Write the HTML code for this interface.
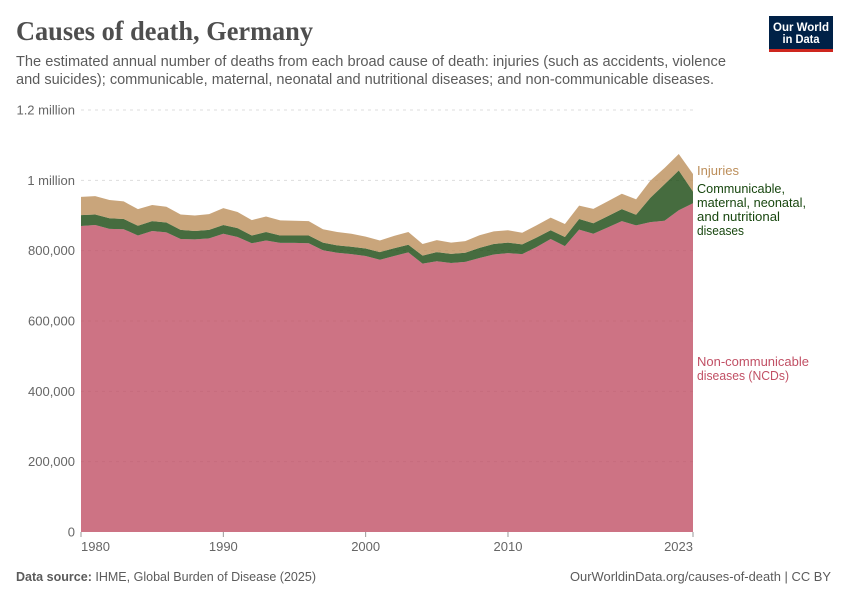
<!DOCTYPE html>
<html lang="en">
<head>
<meta charset="utf-8">
<title>Causes of death, Germany</title>
<style>
html,body{margin:0;padding:0;background:#fff;}
svg{display:block;font-family:"Liberation Sans",sans-serif;}
</style>
</head>
<body>
<svg id="chart" width="850" height="600" viewBox="0 0 850 600" xmlns="http://www.w3.org/2000/svg">
  <text x="16" y="40" font-family="'Liberation Serif',serif" font-weight="700" font-size="27" fill="#4e4e4e" textLength="297" lengthAdjust="spacingAndGlyphs">Causes of death, Germany</text>
  <text x="16" y="66" font-size="14.5" fill="#5b5b5b" textLength="710" lengthAdjust="spacingAndGlyphs">The estimated annual number of deaths from each broad cause of death: injuries (such as accidents, violence</text>
  <text x="16" y="84" font-size="14.5" fill="#5b5b5b" textLength="698" lengthAdjust="spacingAndGlyphs">and suicides); communicable, maternal, neonatal and nutritional diseases; and non-communicable diseases.</text>

  <g>
    <rect x="769" y="16" width="64" height="36" fill="#002147"/>
    <rect x="769" y="49" width="64" height="3" fill="#ce261e"/>
    <text x="801" y="31" text-anchor="middle" font-size="11.5" font-weight="700" fill="#fff" textLength="56" lengthAdjust="spacingAndGlyphs">Our World</text>
    <text x="801" y="43" text-anchor="middle" font-size="11.5" font-weight="700" fill="#fff" textLength="37" lengthAdjust="spacingAndGlyphs">in Data</text>
  </g>

  <g id="grid"></g>
  <g id="areas"></g>
  <g id="yaxis"></g>
  <g id="xaxis"></g>

  <g font-size="13" fill="#bc8e5a">
    <text x="697" y="175" textLength="42" lengthAdjust="spacingAndGlyphs">Injuries</text>
  </g>
  <g font-size="13" fill="#18470f">
    <text x="697" y="193" textLength="88" lengthAdjust="spacingAndGlyphs">Communicable,</text>
    <text x="697" y="207" textLength="109" lengthAdjust="spacingAndGlyphs">maternal, neonatal,</text>
    <text x="697" y="221" textLength="83" lengthAdjust="spacingAndGlyphs">and nutritional</text>
    <text x="697" y="235" textLength="47" lengthAdjust="spacingAndGlyphs">diseases</text>
  </g>
  <g font-size="13" fill="#c15065">
    <text x="697" y="366" textLength="112" lengthAdjust="spacingAndGlyphs">Non-communicable</text>
    <text x="697" y="380" textLength="92" lengthAdjust="spacingAndGlyphs">diseases (NCDs)</text>
  </g>

  <text x="16" y="581" font-size="13" fill="#5b5b5b" textLength="300" lengthAdjust="spacingAndGlyphs"><tspan font-weight="700">Data source:</tspan> IHME, Global Burden of Disease (2025)</text>
  <text x="570" y="581" font-size="13" fill="#5b5b5b" textLength="261" lengthAdjust="spacingAndGlyphs">OurWorldinData.org/causes-of-death | CC BY</text>
</svg>
<script>
const years = [1980,1981,1982,1983,1984,1985,1986,1987,1988,1989,1990,1991,1992,1993,1994,1995,1996,1997,1998,1999,2000,2001,2002,2003,2004,2005,2006,2007,2008,2009,2010,2011,2012,2013,2014,2015,2016,2017,2018,2019,2020,2021,2022,2023];
const ncd = [870,873,862,861,843,856,852,833,832,835,848,839,821,829,822,822,821,801,794,790,785,774,785,795,763,770,765,768,779,789,793,790,810,833,813,860,848,866,884,872,881,885,915,935];
const communicable = [31,30,30,29,28,28,28,26,24,24,25,25,22,24,21,21,22,22,21,21,21,22,22,22,23,26,26,26,29,30,30,28,27,25,26,30,30,32,34,30,69,104,113,33];
const injuries = [52,52,52,50,47,46,45,44,44,45,48,46,44,44,43,42,41,38,38,37,34,33,35,36,33,34,32,33,36,36,35,33,35,36,37,38,41,42,44,44,49,46,47,50];
const yTicks = [0,200,400,600,800,1000,1200];
const yTickLabels = ['0','200,000','400,000','600,000','800,000','1 million','1.2 million'];
const xTicks = [1980,1990,2000,2010,2023];
const xTickLabels = ['1980','1990','2000','2010','2023'];

const NS = 'http://www.w3.org/2000/svg';
const plot = {left:81, right:693, top:110, bottom:532};
function xScale(year){
  return plot.left + (year - years[0]) / (years[years.length-1] - years[0]) * (plot.right - plot.left);
}
function yScale(value){
  return plot.bottom - value / 1200 * (plot.bottom - plot.top);
}
function make(tag, attrs, parent){
  const el = document.createElementNS(NS, tag);
  for (const k in attrs) el.setAttribute(k, attrs[k]);
  parent.appendChild(el);
  return el;
}

const gridGroup = document.getElementById('grid');
const yGroup = document.getElementById('yaxis');
const xGroup = document.getElementById('xaxis');
const areaGroup = document.getElementById('areas');

yTicks.forEach(function(t, i){
  if (t !== 0) {
    const line = make('line', {x1:plot.left, x2:plot.right, y1:yScale(t), y2:yScale(t), stroke:'#dddddd', 'stroke-dasharray':'3,4'}, gridGroup);
    
    
  }
  const label = make('text', {x:75, y:yScale(t)+4.5, 'text-anchor':'end', 'font-size':13, fill:'#666666'}, yGroup);
  label.textContent = yTickLabels[i];
  
  
});

const layers = [
  {name:'area-non-communicable', values:ncd, color:'#c15065'},
  {name:'area-communicable', values:communicable, color:'#18470f'},
  {name:'area-injuries', values:injuries, color:'#bc8e5a'}
];
let base = years.map(function(){ return 0; });
layers.forEach(function(layer){
  const top = base.map(function(b, i){ return b + layer.values[i]; });
  const upper = years.map(function(y, i){ return xScale(y).toFixed(2) + ',' + yScale(top[i]).toFixed(2); });
  const lower = years.map(function(y, i){ return xScale(y).toFixed(2) + ',' + yScale(base[i]).toFixed(2); }).reverse();
  const path = make('path', {d:'M' + upper.join('L') + 'L' + lower.join('L') + 'Z', fill:layer.color, 'fill-opacity':0.8, stroke:'none'}, areaGroup);
  
  
  base = top;
});

xTicks.forEach(function(t, i){
  const x = xScale(t);
  const tick = make('line', {x1:x, x2:x, y1:plot.bottom, y2:plot.bottom+5, stroke:'#999999'}, xGroup);
  
  
  const anchor = i === 0 ? 'start' : (i === xTicks.length-1 ? 'end' : 'middle');
  const label = make('text', {x:x, y:551, 'text-anchor':anchor, 'font-size':13, fill:'#666666'}, xGroup);
  label.textContent = xTickLabels[i];
  
  
});
</script>
</body>
</html>
